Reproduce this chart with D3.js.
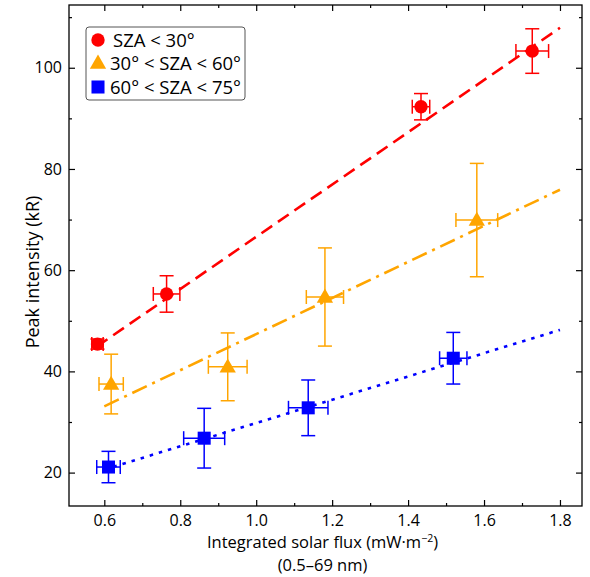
<!DOCTYPE html>
<html><head><meta charset="utf-8">
<script src="https://cdn.jsdelivr.net/npm/d3@7"></script>
<style>
html,body{margin:0;padding:0;background:#fff;}
text{font-family:"Open Sans","Noto Sans",sans-serif;fill:#000;}
</style></head>
<body><svg id="c" width="590" height="577"></svg>
<script>
// ---- data ----
const seriesNames = ["SZA < 30°", "30° < SZA < 60°", "60° < SZA < 75°"];
const seriesColors = ["#ff0000", "#ffa500", "#0000ff"];
const seriesShapes = ["circle", "triangle", "square"];

const redX = [0.582, 0.764, 1.434, 1.727];
const redY = [45.4, 55.3, 92.3, 103.3];
const redXErr = [0.015, 0.035, 0.023, 0.043];
const redYErr = [1.0, 3.6, 2.6, 4.4];

const orangeX = [0.618, 0.925, 1.181, 1.581];
const orangeY = [37.5, 40.9, 54.7, 69.9];
const orangeXErr = [0.032, 0.051, 0.049, 0.055];
const orangeYErr = [5.9, 6.7, 9.7, 11.2];

const blueX = [0.611, 0.863, 1.137, 1.519];
const blueY = [21.1, 26.8, 32.8, 42.6];
const blueXErr = [0.031, 0.054, 0.052, 0.036];
const blueYErr = [3.1, 5.9, 5.5, 5.1];

// fitted lines (end points)
const redFitX = [0.58, 1.8], redFitY = [44.9, 107.9];
const orangeFitX = [0.6, 1.8], orangeFitY = [33.1, 75.9];
const blueFitX = [0.6, 1.8], blueFitY = [20.6, 48.2];

const xMajorTicks = [0.6, 0.8, 1.0, 1.2, 1.4, 1.6, 1.8];
const xMinorTicks = [0.7, 0.9, 1.1, 1.3, 1.5, 1.7];
const yMajorTicks = [20, 40, 60, 80, 100];
const yMinorTicks = [30, 50, 70, 90, 110];

// ---- layout ----
const L = 69, R = 582, T = 5, B = 506;
const svg = d3.select("#c");
const x = d3.scaleLinear().domain([0.507, 1.858]).range([L, R]);
const y = d3.scaleLinear().domain([13.4, 112.4]).range([B, T]);

// axes
const fmtX = d3.format(".1f");
function styleAxis(g){ g.select(".domain").remove(); g.selectAll("line").attr("stroke","#000").attr("stroke-width",1.2); g.selectAll("text").style("font-size","16px").style("font-family","'Open Sans',sans-serif"); }

svg.append("g").attr("transform",`translate(0,${B})`)
  .call(d3.axisBottom(x).tickValues(xMajorTicks).tickFormat(fmtX).tickSize(-6).tickPadding(9)).call(styleAxis);
svg.append("g").attr("transform",`translate(0,${B})`)
  .call(d3.axisBottom(x).tickValues(xMinorTicks).tickFormat("").tickSize(-3)).call(styleAxis);
svg.append("g").attr("transform",`translate(0,${T})`)
  .call(d3.axisTop(x).tickValues(xMajorTicks).tickFormat("").tickSize(-6)).call(styleAxis);
svg.append("g").attr("transform",`translate(0,${T})`)
  .call(d3.axisTop(x).tickValues(xMinorTicks).tickFormat("").tickSize(-3)).call(styleAxis);
svg.append("g").attr("transform",`translate(${L},0)`)
  .call(d3.axisLeft(y).tickValues(yMajorTicks).tickFormat(d3.format("d")).tickSize(-6).tickPadding(7)).call(styleAxis);
svg.append("g").attr("transform",`translate(${L},0)`)
  .call(d3.axisLeft(y).tickValues(yMinorTicks).tickFormat("").tickSize(-3)).call(styleAxis);
svg.append("g").attr("transform",`translate(${R},0)`)
  .call(d3.axisRight(y).tickValues(yMajorTicks).tickFormat("").tickSize(-6)).call(styleAxis);
svg.append("g").attr("transform",`translate(${R},0)`)
  .call(d3.axisRight(y).tickValues(yMinorTicks).tickFormat("").tickSize(-3)).call(styleAxis);

svg.append("rect").attr("x",L).attr("y",T).attr("width",R-L).attr("height",B-T)
  .attr("fill","none").attr("stroke","#000").attr("stroke-width",1.3);

// axis titles
const xt = svg.append("text").attr("x",(L+R)/2-3).attr("y",548).attr("text-anchor","middle").style("font-size","16.5px");
xt.append("tspan").text("Integrated solar flux (mW·m");
xt.append("tspan").attr("dy",-6).style("font-size","10.5px").text("−2");
xt.append("tspan").attr("dy",6).text(")");
svg.append("text").attr("x",(L+R)/2-3).attr("y",571).attr("text-anchor","middle").style("font-size","16.5px").text("(0.5–69 nm)");
svg.append("text").attr("transform","translate(39,272) rotate(-90)").attr("text-anchor","middle").style("font-size","18px").text("Peak intensity (kR)");

// series
const series = [
  {x:redX,y:redY,xe:redXErr,ye:redYErr,fx:redFitX,fy:redFitY,dash:"13,7"},
  {x:orangeX,y:orangeY,xe:orangeXErr,ye:orangeYErr,fx:orangeFitX,fy:orangeFitY,dash:"16,6,3,6"},
  {x:blueX,y:blueY,xe:blueXErr,ye:blueYErr,fx:blueFitX,fy:blueFitY,dash:"3.5,6"}
];
const line = d3.line().x(d=>x(d[0])).y(d=>y(d[1]));
const sym = {circle:d3.symbolCircle, triangle:d3.symbolTriangle, square:d3.symbolSquare};
const symSize = {circle:140, triangle:115, square:170};

series.forEach((s,i)=>{
  const col = seriesColors[i];
  const g = svg.append("g");
  g.append("path").datum(d3.zip(s.fx,s.fy)).attr("d",line).attr("fill","none")
    .attr("stroke",col).attr("stroke-width",2.6).attr("stroke-dasharray",s.dash);
  const pts = d3.range(s.x.length).map(k=>({x:s.x[k],y:s.y[k],xe:s.xe[k],ye:s.ye[k]}));
  const eb = g.selectAll(".eb").data(pts).join("g").attr("stroke",col).attr("stroke-width",1.5);
  const cap = 7;
  eb.append("line").attr("x1",d=>x(d.x)).attr("x2",d=>x(d.x)).attr("y1",d=>y(d.y-d.ye)).attr("y2",d=>y(d.y+d.ye));
  eb.append("line").attr("x1",d=>x(d.x)-cap).attr("x2",d=>x(d.x)+cap).attr("y1",d=>y(d.y-d.ye)).attr("y2",d=>y(d.y-d.ye));
  eb.append("line").attr("x1",d=>x(d.x)-cap).attr("x2",d=>x(d.x)+cap).attr("y1",d=>y(d.y+d.ye)).attr("y2",d=>y(d.y+d.ye));
  eb.append("line").attr("x1",d=>x(d.x-d.xe)).attr("x2",d=>x(d.x+d.xe)).attr("y1",d=>y(d.y)).attr("y2",d=>y(d.y));
  eb.append("line").attr("x1",d=>x(d.x-d.xe)).attr("x2",d=>x(d.x-d.xe)).attr("y1",d=>y(d.y)-cap).attr("y2",d=>y(d.y)+cap);
  eb.append("line").attr("x1",d=>x(d.x+d.xe)).attr("x2",d=>x(d.x+d.xe)).attr("y1",d=>y(d.y)-cap).attr("y2",d=>y(d.y)+cap);
  const shp = seriesShapes[i];
  g.selectAll(".m").data(pts).join("path")
    .attr("transform",d=>`translate(${x(d.x)},${y(d.y)+(shp==="triangle"?1:0)})`)
    .attr("d",d3.symbol().type(sym[shp]).size(symSize[shp])).attr("fill",col);
});

// legend
const lg = svg.append("g");
lg.append("rect").attr("x",86).attr("y",27).attr("width",159).attr("height",73).attr("rx",3)
  .attr("fill","#fff").attr("stroke","#555").attr("stroke-width",1);
const rows = [40,63,87];
seriesNames.forEach((n,i)=>{
  const shp = seriesShapes[i];
  lg.append("path").attr("transform",`translate(98,${rows[i]+(shp==="triangle"?1:0)})`)
    .attr("d",d3.symbol().type(sym[shp]).size(symSize[shp])).attr("fill",seriesColors[i]);
  lg.append("text").attr("x", i===0?113:110).attr("y",rows[i]+6.5).style("font-size","18.5px").text(n);
});
</script></body></html>
